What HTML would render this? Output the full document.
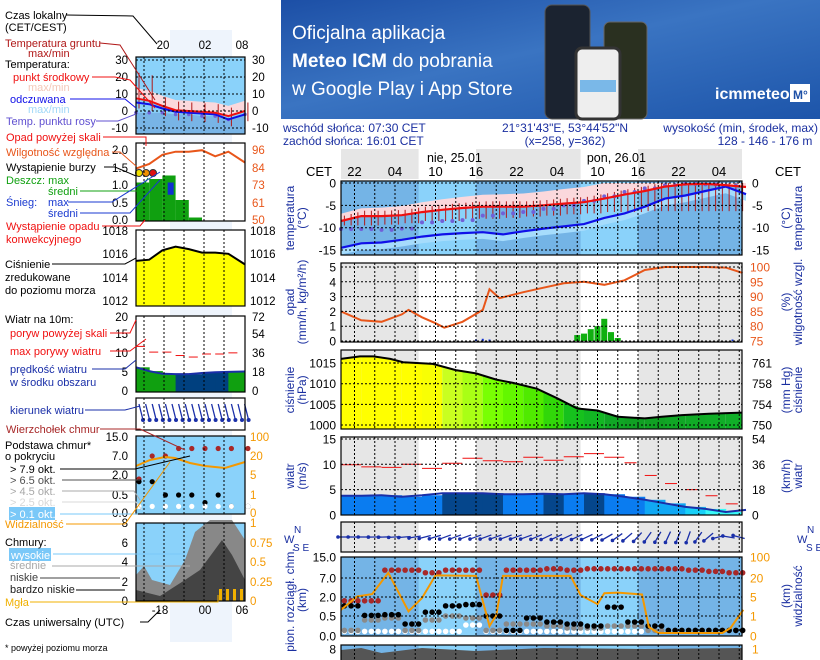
<!DOCTYPE html>
<html><head><meta charset="utf-8"><style>
html,body{margin:0;padding:0;background:#fff;}
svg{display:block;font-family:"Liberation Sans",sans-serif;}
</style></head><body>
<svg id="chart" width="820" height="660" viewBox="0 0 820 660" xmlns="http://www.w3.org/2000/svg">
<defs>
<linearGradient id="bn" x1="0" y1="0" x2="1" y2="1"><stop offset="0" stop-color="#1c4fa6"/><stop offset="0.45" stop-color="#3a74c2"/><stop offset="1" stop-color="#1d55aa"/></linearGradient>
</defs>
<g>
<rect x="281" y="0" width="539" height="119" fill="url(#bn)"/>
<text x="292" y="39" fill="#fff" font-size="19">Oficjalna aplikacja</text>
<text x="292" y="67" fill="#fff" font-size="19"><tspan font-weight="bold">Meteo ICM</tspan> do pobrania</text>
<text x="292" y="95" fill="#fff" font-size="19">w Google Play i App Store</text>
<g>
<rect x="545" y="5" width="45" height="114" rx="7" fill="#1b2330" stroke="#555"/>
<rect x="604" y="22" width="43" height="97" rx="6" fill="#2a3020" stroke="#666"/>
<rect x="576" y="48" width="44" height="71" rx="6" fill="#eee" stroke="#333" stroke-width="3"/>
<rect x="580" y="80" width="36" height="12" fill="#7ab8e8"/>
</g>
<text x="715" y="99" fill="#fff" font-size="16" font-weight="bold">icmmeteo</text>
<rect x="790" y="84" width="20" height="18" fill="#fff"/>
<text x="793" y="99" fill="#1c4fa6" font-size="12" font-weight="bold">M°</text>
</g>
<g font-size="12" fill="#1a2fa0">
<text x="283" y="132">wschód słońca: 07:30 CET</text>
<text x="283" y="145">zachód słońca: 16:01 CET</text>
<text x="565" y="132" text-anchor="middle">21°31'43"E, 53°44'52"N</text>
<text x="565" y="145" text-anchor="middle">(x=258, y=362)</text>
<text x="818" y="132" text-anchor="end">wysokość (min, środek, max)</text>
<text x="765" y="145" text-anchor="middle">128 - 146 - 176 m</text>
</g>
<g id="main"></g>
<g id="mini"></g>
<g id="legend" font-size="11"></g>
</svg>
<script>
// ===== main chart data (hours since Sat 20:00 CET) =====
const tHours=[0,3,6,9,12,15,18,21,24,27,30,33,36,39,42,45,48,51,54,57,60];
const tempMid=[-8.5,-7.4,-7.4,-7.2,-6.5,-6.0,-5.6,-5.3,-5.3,-5.3,-5.0,-4.6,-4.3,-3.5,-2.6,-1.8,-0.8,-0.3,-0.2,-0.5,-0.9];
const tempFeel=[-14.5,-13.5,-13.3,-12.7,-12.0,-11.5,-11.2,-11.0,-11.5,-10.8,-10.2,-9.7,-9.2,-7.8,-6.8,-5.3,-3.5,-2.8,-1.8,-0.8,-2.5];
const dewPoint=[-10.3,-10.3,-10.5,-10.2,-8.8,-8.5,-8.3,-7.3,-6.8,-6.5,-5.8,-5.0,-4.0,-3.0,-2.0,-1.2,-0.5,-0.2,-0.3,-0.6,-1.0];
const groundMin=[-9.5,-9.5,-9.3,-9.0,-8.5,-8.5,-8.0,-8.0,-7.8,-7.5,-7.3,-7.0,-6.8,-6.5,-6.5,-6.3,-6.3,-6.3,-6.3,-6.3,-6.3];
const humHours=[0,3,6,9,10,12,14,15.3,18,21,22,23.5,27,30,33,36,39,42,45,48,51,54,57,59.5];
const humidity=[85,82,81.5,84,85.5,83,81,79.5,81.5,85.5,92.5,89.5,91.5,93,94.5,95,94,95.5,99,100,100,100,99.8,98];
const precipHours=[20,21,22,35,36,37,38,39,40,41,58];
const precipRain=[0,0,0,0.4,0.5,0.8,1.0,1.5,0.6,0.2,0];
const precipSnow=[0.1,0.15,0.1,0,0,0,0,0,0,0,0.1];
const presHours=[0,2.8,4.8,7.3,9.2,13.6,17,20,23,25.5,29,32,35,38,41,45,47.5,50.5,54.5,59.4];
const pressure=[1016,1016.6,1016.6,1016,1015.2,1014.8,1013.3,1012.5,1011,1010.2,1008.8,1006.5,1004,1003.5,1002,1001.6,1002,1002.4,1002.7,1003];
const windSpeed=[3.8,3.8,3.9,3.6,3.9,4.3,4.3,4.3,4.1,4.1,4.2,4.1,4.3,4.1,3.6,3.0,2.3,1.6,1.2,0.6,1.0];
const windGust=[9.9,9.5,9.4,10.0,9.2,10.2,11.2,10.7,10.5,11.4,10.8,11.5,12.1,11.4,10.3,7.8,6.2,5.0,3.8,2.2,2.1];
const windDir=[180,180,182,185,195,200,200,200,200,200,205,205,205,210,220,235,245,250,220,170,160];
const cloudTop=[1.7,1.7,10,10,9,10,10,2.5,10,10,10.5,10,10.5,10.5,10.5,10.5,10.5,10,9.5,9,8.5];
const baseOkt79=[1.3,0.55,0.6,0.3,0.8,1.3,1.4,0.5,0.14,0.45,0.35,0.3,0.25,1.2,0.35,0.25,0.14,0.14,0.14,0.14,0.14];
const baseOkt65=[0.14,0.4,0.45,0.14,0.4,0.5,0.45,0.14,0.3,0.3,0.25,0.2,0.2,0.25,0.25,0.14,0.14,0.14,0.14,0.14,0.14];
const baseOkt01=[0.14,0.14,0.14,0.14,0.14,0.14,0.3,0.14,0.14,0.14,0.14,0.14,0.14,0.14,0.14,0,0,0,0,0,0];
const visHours=[0,2.4,4.6,7,10,12,14,20,22,23,24,34,35.5,38,39,41,44.6,45.6,47,56.5,57.7,59.6];
const visibility=[2.3,5.5,7.3,40,2,4.8,30,28,0.5,1.2,28,28,6.5,3.5,8,8.5,7,0.45,0.15,0.15,0.4,2.3];
const timeLabels=['22','04','10','16','22','04','10','16','22','04'];
const timeLabelHours=[2,8,14,20,26,32,38,44,50,56];
const dayLabels=['nie, 25.01','pon, 26.01'];
const dayLabelHours=[16.8,40.8];
const daylight=[[11.5,20],[35.5,44]];
const tempTicks=[0,-5,-10,-15];
const precTicks=[5,4,3,2,1,0];
const humTicks=[100,95,90,85,80,75];
const presTicks=[1015,1010,1005,1000];
const presMmTicks=['761','758','754','750'];
const windTicks=[15,10,5,0];
const windKmhTicks=['54','36','18','0'];
const cloudTicks=['15.0','7.0','2.0','0.5','0.0'];
const cloudTickVals=[15,7,2,0.5,0];
const visTicks=[100,20,5,1,0];

// ===== mini (legend) chart data =====
const mHours=[0,2,4,6,8,10,12,14,16.5];
const mTemp=[7.5,6,3,0.5,0,-0.5,-1,-3,0];
const mFeel=[5,4,1.5,-0.5,-1,-1.5,-2,-5,-2];
const mDew=[-1,-1,-1,-2,-2,-3,-3,-5,-2];
const mHum=[84,87,93,95,95,96,92,95,88];
const mRain=[1.1,1.2,1.3,0.6,0.1,0,0,0,0];
const mPres=[1015.4,1015.5,1016.3,1016.6,1016.4,1016.1,1016.1,1016,1015.1];
const mWind=[6.5,5.5,4.8,4.7,4.7,5.0,5.2,5.3,5.4];
const mGust=[12,10.5,10.5,9.6,9.2,10.0,10.0,10.3,10.5];
const mCloudTop=[1.7,7,7,10,10,10,10,10,10];
const mBase=[1.5,1.5,0.5,0.5,0.5,0.3,0.5,0.2,0.2];

const NS='http://www.w3.org/2000/svg';
const main=document.getElementById('main');
const mini=document.getElementById('mini');
const legend=document.getElementById('legend');
function mk(tag,attrs,parent,text){const e=document.createElementNS(NS,tag);for(const k in attrs)e.setAttribute(k,attrs[k]);if(text!==undefined)e.textContent=text;parent.appendChild(e);return e;}
function interp(xs,ys,v){if(v<=xs[0])return ys[0];for(let i=1;i<xs.length;i++){if(v<=xs[i]){const t=(v-xs[i-1])/(xs[i]-xs[i-1]);return ys[i-1]+t*(ys[i]-ys[i-1]);}}return ys[ys.length-1];}
function pts(xs,ys,fx,fy){return xs.map((h,i)=>fx(h).toFixed(1)+','+fy(ys[i]).toFixed(1)).join(' ');}

const X0=341,X1=742,PX=6.75;
const X=h=>X0+h*PX;
const tY=v=>183-v*4.47;
const pY=v=>341-v*14.8;
const hY=v=>341-(v-75)*2.96;
const prY=v=>425-(v-1000)*4.13;
const wY=v=>515-v*5.07;
const cY=v=>interp([0,0.5,2,7,15],[636,616,597,578,557],v);
const vY=v=>interp([0,1,5,20,100],[636,616,597,578,557],v);
const panels=[[181,255],[263,342],[350,429],[437,515],[522,552],[557,636],[645,662]];

let el=mk('rect',{x:X0,y:149,width:X1-X0,height:30,fill:'#e6e6e6'},main);


daylight.forEach(d=>{
  const r=mk('rect',{x:X(d[0]),y:149,width:X(d[1])-X(d[0]),height:30,fill:'#fff'},main);
  
  
});
timeLabels.forEach((t,i)=>{
  const e=mk('text',{x:X(timeLabelHours[i]),y:176,'text-anchor':'middle','font-size':13,fill:'#000'},main,t);
  
  
});
dayLabels.forEach((t,i)=>{
  const e=mk('text',{x:X(dayLabelHours[i]),y:162,'text-anchor':'middle','font-size':12.5,fill:'#000'},main,t);
  
  
});
el=mk('text',{x:306,y:176,'font-size':13},main,'CET');


el=mk('text',{x:775,y:176,'font-size':13},main,'CET');



for(let p=1;p<=4;p++){
  const [a,b]=panels[p];
  const r=mk('rect',{x:X0,y:a,width:X1-X0,height:b-a,fill:'#e6e6e6'},main);
  
  
  daylight.forEach(d=>{
    const w=mk('rect',{x:X(d[0]),y:a,width:X(d[1])-X(d[0]),height:b-a,fill:'#fff'},main);
    
    
  });
}
[0,5,6].forEach(p=>{
  const [a,b]=panels[p];
  const r=mk('rect',{x:X0,y:a,width:X1-X0,height:b-a,fill:'#74b4e6'},main);
  
  
  daylight.forEach(d=>{
    const w=mk('rect',{x:X(d[0]),y:a,width:X(d[1])-X(d[0]),height:b-a,fill:'#8ad2fa'},main);
    
    
  });
});

// temperature
const upper=tHours.map((h,i)=>X(h).toFixed(1)+','+tY(Math.min(0,tempMid[i]+1.6+i*0.15)).toFixed(1)).join(' ');
const lowerRev=tHours.map((h,i)=>X(h).toFixed(1)+','+tY(tempMid[i]).toFixed(1)).reverse().join(' ');
el=mk('polygon',{points:upper+' '+lowerRev,fill:'#fbd8dc'},main);


const feelUp=tHours.map((h,i)=>X(h).toFixed(1)+','+tY(tempFeel[i]).toFixed(1)).join(' ');
const feelLo=tHours.map((h,i)=>X(h).toFixed(1)+','+tY(tempFeel[i]-1.5).toFixed(1)).reverse().join(' ');
el=mk('polygon',{points:feelUp+' '+feelLo,fill:'#a6dcfc'},main);


for(let h=0;h<60;h++){
  const i=Math.floor(h/3);
  const top=interp(tHours,tempMid,h)+1.2;
  const b=mk('line',{x1:X(h+0.5),x2:X(h+0.5),y1:tY(Math.min(0,top)),y2:tY(groundMin[i]),stroke:'#b01818','stroke-width':1},main);
  
  
}
tHours.forEach((h,i)=>{
  [0,1.5].forEach(o=>{
    if(h+o>59.5)return;
    const d=mk('circle',{cx:X(h+o),cy:tY(dewPoint[i]),r:2,fill:'#7060d8'},main);
    
    
  });
});
el=mk('polyline',{points:pts(tHours,tempFeel,X,tY),fill:'none',stroke:'#1010e8','stroke-width':2.2},main);


el=mk('polyline',{points:pts(tHours,tempMid,X,tY),fill:'none',stroke:'#f01010','stroke-width':2.2},main);



// precipitation / humidity
precipHours.forEach((h,i)=>{
  if(precipRain[i]>0){const r=mk('rect',{x:X(h)-3,y:pY(precipRain[i]),width:6,height:pY(0)-pY(precipRain[i]),fill:'#10b010'},main);
  
  }
  if(precipSnow[i]>0){const s=mk('rect',{x:X(h)-1,y:pY(precipSnow[i]),width:2,height:pY(0)-pY(precipSnow[i]),fill:'#1030d0'},main);
  
  }
});
el=mk('polyline',{points:pts(humHours,humidity,X,hY),fill:'none',stroke:'#e8561a','stroke-width':2},main);



// pressure
function presColor(p){
  const stops=[[1001,[16,150,32]],[1003,[16,176,40]],[1005,[24,200,24]],[1008,[64,224,0]],[1011,[112,255,0]],[1013.5,[200,255,32]],[1015,[255,255,0]]];
  if(p<=stops[0][0])return 'rgb('+stops[0][1]+')';
  for(let i=1;i<stops.length;i++){if(p<=stops[i][0]){const t=(p-stops[i-1][0])/(stops[i][0]-stops[i-1][0]);const c=stops[i-1][1].map((v,k)=>Math.round(v+t*(stops[i][1][k]-v)));return 'rgb('+c+')';}}
  return 'rgb(255,255,0)';
}
for(let h=0;h<59.4;h+=3){
  const pm=interp(presHours,pressure,h+1.5);
  const h2=Math.min(h+3,59.4);
  const poly=[X(h),prY(interp(presHours,pressure,h)),X(h2),prY(interp(presHours,pressure,h2)),X(h2),429,X(h),429];
  const s=mk('polygon',{points:poly.join(' '),fill:presColor(pm)},main);
  
  
}
el=mk('polyline',{points:pts(presHours,pressure,X,prY),fill:'none',stroke:'#000','stroke-width':2},main);



// wind
function windColor(v){return v>=4.2?'#05468c':v>=3.4?'#0a7cf0':v>=2.2?'#10a8f4':v>=1.4?'#18d0f8':'#38f8f8';}
tHours.forEach((h,i)=>{
  if(h>=59.4)return;
  const w=Math.min(3,59.4-h);
  const r=mk('rect',{x:X(h),y:wY(windSpeed[i]),width:w*PX+0.5,height:wY(0)-wY(windSpeed[i]),fill:windColor(windSpeed[i])},main);
  
  
});
el=mk('polyline',{points:pts(tHours,windSpeed,X,wY),fill:'none',stroke:'#1a2fa8','stroke-width':2},main);


tHours.forEach((h,i)=>{
  if(h>=59.4)return;
  const g=mk('line',{x1:X(h),x2:X(h)+(h<42?20:12),y1:wY(windGust[i]),y2:wY(windGust[i]),stroke:'#f01010','stroke-width':1},main);
  
  
});
for(let h=0;h<60;h+=1.5){
  const a=interp(tHours,windDir,h)*Math.PI/180;
  const cx=X(h)+3,cy=537,L=6;
  const dx=Math.cos(a)*L,dy=-Math.sin(a)*L;
  const ar=mk('line',{x1:cx-dx,y1:cy-dy,x2:cx+dx,y2:cy+dy,stroke:'#1a2fa8','stroke-width':1.3},main);
  
  
  const hd=mk('circle',{cx:cx+dx,cy:cy+dy,r:1.8,fill:'#1a2fa8'},main);
  
  
}

// clouds
for(let h=0;h<60;h++){
  const i=Math.floor(h/3),cx=X(h+0.5);
  const t=mk('circle',{cx:cx,cy:cY(cloudTop[i]),r:2.8,fill:'#a82828'},main);
  
  
  if(baseOkt01[i]>0){const w=mk('circle',{cx:cx,cy:cY(baseOkt01[i])+1,r:2.8,fill:'#fff'},main);
  
  }
  const g=mk('circle',{cx:cx,cy:cY(baseOkt65[i]),r:2.8,fill:'#8a8a8a'},main);
  
  
  const b=mk('circle',{cx:cx,cy:cY(baseOkt79[i]),r:2.8,fill:'#000'},main);
  
  
}
el=mk('polyline',{points:pts(visHours,visibility,X,vY),fill:'none',stroke:'#f49800','stroke-width':2},main);


el=mk('polygon',{points:[X0,660,X0,650,X(3),648,X(6),653,X(12),648,X(20),651,X(30),648,X(45),649,X(59.4),648,X(59.4),660].join(' '),fill:'#555'},main);



panels.forEach((pn,p)=>{
  const [a,b]=pn;
  for(let h=2;h<60;h+=3){
    const g=mk('line',{x1:X(h),x2:X(h),y1:a,y2:b,stroke:'#000','stroke-dasharray':'2,2','stroke-width':1},main);
    
    
  }
  const r=mk('rect',{x:X0,y:a,width:X1-X0,height:b-a,fill:'none',stroke:'#000','stroke-width':1.2},main);
  
  
});
function hgrid(ys){ys.forEach(y=>{const g=mk('line',{x1:X0,x2:X1,y1:y,y2:y,stroke:'#000','stroke-dasharray':'2,2'},main);});}
function ticks(labels,ys,x,anchor,color){labels.forEach((l,i)=>{const t=mk('text',{x:x,y:ys[i]+4.5,'text-anchor':anchor,'font-size':12,fill:color},main,l);});}
hgrid(tempTicks.map(tY));ticks(tempTicks.map(String),tempTicks.map(tY),336,'end','#000');ticks(tempTicks.map(String),tempTicks.map(tY),752,'start','#000');
hgrid(precTicks.map(pY));ticks(precTicks.map(String),precTicks.map(pY),336,'end','#000');ticks(humTicks.map(String),humTicks.map(hY),750,'start','#e8561a');
hgrid(presTicks.map(prY));ticks(presTicks.map(String),presTicks.map(prY),336,'end','#000');ticks(presMmTicks,presTicks.map(prY),752,'start','#000');
hgrid(windTicks.map(wY));ticks(windTicks.map(String),windTicks.map(wY),336,'end','#000');ticks(windKmhTicks,windTicks.map(wY),752,'start','#000');
hgrid(cloudTickVals.map(cY));ticks(cloudTicks,cloudTickVals.map(cY),336,'end','#000');ticks(visTicks.map(String),visTicks.map(vY),750,'start','#f49800');
ticks(['8'],[649],336,'end','#000');ticks(['1'],[649],752,'start','#f49800');

function vtitle(lines,cx,cy,name){lines.forEach((l,i)=>{const t=mk('text',{x:0,y:0,transform:'translate('+(cx+i*12)+','+cy+') rotate(-90)','text-anchor':'middle','font-size':12,fill:'#1a2fa0'},main,l);});}
vtitle(['temperatura','(°C)'],294,218,'temp-axis-title');
vtitle(['(°C)','temperatura'],790,218,'temp-axis-title-right');
vtitle(['opad','(mm/h, kg/m²/h)'],294,302,'precip-axis-title');
vtitle(['(%)','wilgotność wzgl.'],790,302,'humidity-axis-title');
vtitle(['ciśnienie','(hPa)'],294,390,'pressure-axis-title');
vtitle(['(mm Hg)','ciśnienie'],790,390,'pressure-mmhg-axis-title');
vtitle(['wiatr','(m/s)'],294,476,'wind-axis-title');
vtitle(['(km/h)','wiatr'],790,476,'wind-kmh-axis-title');
vtitle(['pion. rozciągł. chm.','(km)'],294,600,'cloud-axis-title');
vtitle(['(km)','widzialność'],790,596,'visibility-axis-title');
[[284,'W'],[797,'W']].forEach(c=>{
  const t=mk('text',{x:c[0],y:543,'font-size':11,fill:'#1a2fa0'},main,c[1]+'');
  
  
  const t2=mk('text',{x:c[0]+10,y:533,'font-size':10,fill:'#1a2fa0'},main,'N');
  
  
  const t3=mk('text',{x:c[0]+9,y:551,'font-size':10,fill:'#1a2fa0'},main,'S E');
  
  
});

// mini chart
const MX0=136,MX1=245;
const MX=h=>MX0+h*6.6;
const mpanels=[[57,134],[143,221],[230,306],[316,392],[398,430],[436,514],[523,601]];
const mtY=v=>111-v*1.7;
const mpY=v=>221-v*35;
const mhY=v=>221-(v-50)*1.54;
const mprY=v=>301-(v-1012)*11.8;
const mwY=v=>392-v*3.8;
const mcY=v=>interp([0,0.5,2,7,15],[514,495,475,456,436],v);
el=mk('rect',{x:170,y:30,width:62,height:612,fill:'#eef4fc'},mini);


[[0,'#8ad2fa'],[5,'#8ad2fa'],[6,'#8ad2fa'],[2,'#fff'],[1,'#fff'],[3,'#fff'],[4,'#fff']].forEach(([p,c])=>{
  const [a,b]=mpanels[p];
  const r=mk('rect',{x:MX0,y:a,width:MX1-MX0,height:b-a,fill:c},mini);
  
  
});
el=mk('polygon',{points:pts(mHours,mTemp.map(v=>v+6),MX,mtY)+' '+mHours.map((h,i)=>MX(h)+','+mtY(mTemp[i])).reverse().join(' '),fill:'#fbd8dc'},mini);


el=mk('polygon',{points:MX0+',134 '+pts(mHours,mDew,MX,mtY)+' '+MX1+',134',fill:'#78b4e6'},mini);


mHours.forEach((h,i)=>{const d=mk('circle',{cx:MX(h),cy:mtY(mDew[i]),r:1.8,fill:'#7060d8'},mini);
 const b=mk('line',{x1:MX(h)+3,x2:MX(h)+3,y1:mtY(mTemp[i]+(i<2?15:5)),y2:mtY(mTemp[i]-6),stroke:'#b01818'},mini);});
el=mk('polyline',{points:pts(mHours,mFeel,MX,mtY),fill:'none',stroke:'#1010e8','stroke-width':2},mini);


el=mk('polyline',{points:pts(mHours,mTemp,MX,mtY),fill:'none',stroke:'#f01010','stroke-width':2},mini);


mHours.forEach((h,i)=>{if(mRain[i]>0){const r=mk('rect',{x:MX(h),y:mpY(mRain[i]),width:13.2,height:mpY(0)-mpY(mRain[i]),fill:'#10a010'},mini);}});
el=mk('rect',{x:MX(4.8),y:mpY(1.1),width:6,height:mpY(0.75)-mpY(1.1),fill:'#1030d0'},mini);


el=mk('polyline',{points:pts(mHours,mHum,MX,mhY),fill:'none',stroke:'#e8561a','stroke-width':2},mini);


[[139,'#f0e000'],[146,'#f09000'],[153,'#e01010']].forEach(([x,c])=>{const s=mk('circle',{cx:x,cy:173,r:3.5,fill:c,stroke:'#333'},mini);});
el=mk('polygon',{points:MX0+',306 '+pts(mHours,mPres,MX,mprY)+' '+MX1+',306',fill:'#ffff00'},mini);


el=mk('polyline',{points:pts(mHours,mPres,MX,mprY),fill:'none',stroke:'#000','stroke-width':2},mini);


mHours.forEach((h,i)=>{if(i===mHours.length-1)return;const c=(i>=3&&i<=6)?'#00407f':'#10a010';const r=mk('rect',{x:MX(h),y:mwY(mWind[i]),width:MX(mHours[i+1])-MX(h)+0.5,height:mwY(0)-mwY(mWind[i]),fill:c},mini);
 const g=mk('line',{x1:MX(h),x2:MX(h)+9,y1:mwY(mGust[i]),y2:mwY(mGust[i]),stroke:'#f01010'},mini);});
el=mk('polyline',{points:pts(mHours,mWind,MX,mwY),fill:'none',stroke:'#1a2fa8','stroke-width':2},mini);


for(let h=0;h<17;h+=1){const a=mk('line',{x1:MX(h)+3,y1:404,x2:MX(h)+7,y2:420,stroke:'#1a2fa8','stroke-width':1.3},mini);
 const hd=mk('circle',{cx:MX(h)+7,cy:420,r:2,fill:'#1a2fa8'},mini);}
mHours.forEach((h,i)=>{const t=mk('circle',{cx:MX(h)+3,cy:mcY(mCloudTop[i]),r:2.6,fill:'#a82828'},mini);
 const b=mk('circle',{cx:MX(h)+3,cy:mcY(mBase[i]),r:2.6,fill:'#000'},mini);
 const w=mk('circle',{cx:MX(h)+3,cy:mcY(0.2),r:2.6,fill:'#fff'},mini);});
el=mk('polyline',{points:[136,466,150,460,165,457,175,458,190,463,205,466,225,468,245,462].join(' '),fill:'none',stroke:'#f49800','stroke-width':2},mini);


el=mk('polygon',{points:'136,601 136,575 144,566 152,580 170,585 185,560 195,532 210,520 232,520 245,540 245,601',fill:'#888'},mini);


el=mk('polygon',{points:'136,601 136,590 160,596 185,580 200,570 222,540 232,555 245,580 245,601',fill:'#444'},mini);


[219,226,233,240].forEach(x=>{const f=mk('rect',{x:x,y:589,width:3,height:12,fill:'#f0b000'},mini);});
mpanels.forEach(([a,b])=>{
  [144,164,184,204,224].forEach(x=>{const g=mk('line',{x1:x,x2:x,y1:a,y2:b,stroke:'#000','stroke-dasharray':'2,2'},mini);});
  const r=mk('rect',{x:MX0,y:a,width:MX1-MX0,height:b-a,fill:'none',stroke:'#000','stroke-width':1.2},mini);
  
  
});
function mt(l,x,y,anchor,color){const t=mk('text',{x:x,y:y,'text-anchor':anchor,'font-size':11.5,fill:color||'#000'},mini,l);}
[['30',60],['20',77],['10',94],['0',111],['-10',128]].forEach(([l,y])=>{mt(l,128,y+4,'end');mt(l,252,y+4,'start');const g=mk('line',{x1:MX0,x2:MX1,y1:y,y2:y,stroke:'#000','stroke-dasharray':'2,2'},mini);});
[['2.0',150,'96'],['1.5',168,'84'],['1.0',185,'73'],['0.5',203,'61'],['0.0',220,'50']].forEach(([l,y,r])=>{mt(l,128,y+4,'end');mt(r,252,y+4,'start','#e8561a');});
[['1018',231],['1016',254],['1014',278],['1012',301]].forEach(([l,y])=>{mt(l,128,y+4,'end');mt(l,250,y+4,'start');});
[['20',317,'72'],['15',334,'54'],['10',353,'36'],['5',372,'18'],['0',391,'0']].forEach(([l,y,r])=>{mt(l,128,y+4,'end');mt(r,252,y+4,'start');});
[['15.0',437,'100'],['7.0',456,'20'],['2.0',475,'5'],['0.5',495,'1'],['0.0',513,'0']].forEach(([l,y,r])=>{mt(l,128,y+4,'end');mt(r,250,y+4,'start','#f49800');});
[['8',523,'1'],['6',543,'0.75'],['4',562,'0.5'],['2',582,'0.25'],['0',601,'0']].forEach(([l,y,r])=>{mt(l,128,y+4,'end');mt(r,250,y+4,'start','#f49800');});
mt('20',163,49,'middle');mt('02',205,49,'middle');mt('08',242,49,'middle');
mt('-18',160,614,'middle');mt('00',205,614,'middle');mt('06',242,614,'middle');

// legend
const legItems=[
['Czas lokalny',5,19,'#000'],['(CET/CEST)',5,31,'#000'],
['Temperatura gruntu',5,47,'#b01818'],['max/min',28,57,'#b01818'],
['Temperatura:',5,68,'#000'],['punkt środkowy',13,81,'#f01010'],['max/min',28,91,'#f4c8b8'],
['odczuwana',10,103,'#1010e8'],['max/min',28,113,'#a0d8f8'],['Temp. punktu rosy',6,125,'#6050d0'],
['Opad powyżej skali',6,141,'#f01010'],['Wilgotność względna',6,156,'#e8561a'],['Wystąpienie burzy',6,171,'#000'],
['Deszcz: max',6,184,'#10a010'],['średni',48,195,'#10a010'],['Śnieg:',6,206,'#1a3ad0'],['max',48,206,'#1a3ad0'],['średni',48,217,'#1a3ad0'],
['Wystąpienie opadu',6,230,'#f01010'],['konwekcyjnego',6,243,'#f01010'],
['Ciśnienie',5,268,'#000'],['zredukowane',5,281,'#000'],['do poziomu morza',5,294,'#000'],
['Wiatr na 10m:',5,323,'#000'],['poryw powyżej skali',10,337,'#f01010'],['max porywy wiatru',10,355,'#f01010'],
['prędkość wiatru',10,373,'#1a2fa8'],['w środku obszaru',10,386,'#1a2fa8'],['kierunek wiatru',10,414,'#1a2fa8'],
['Wierzchołek chmur',6,433,'#a82828'],['Podstawa chmur*',5,449,'#000'],['o pokryciu',5,460,'#000'],
['> 7.9 okt.',10,473,'#000'],['> 6.5 okt.',10,484,'#505050'],['> 4.5 okt.',10,495,'#a8a8a8'],['> 2.5 okt.',10,506,'#d8d8d8'],
['Widzialność',5,528,'#f49800'],['Chmury:',5,546,'#000'],['średnie',10,569,'#a8a8a8'],['niskie',10,581,'#404040'],['bardzo niskie',10,593,'#202020'],['Mgła',5,606,'#f0b000'],
['Czas uniwersalny (UTC)',5,626,'#000']];
let r=mk('rect',{x:9,y:507,width:46,height:13,fill:'#7ac8f8'},legend);


r=mk('rect',{x:9,y:548,width:42,height:13,fill:'#7ac8f8'},legend);


legItems.push(['> 0.1 okt.',10,518,'#fff'],['wysokie',11,559,'#fff']);
legItems.forEach(([t,x,y,c])=>{const e=mk('text',{x:x,y:y,fill:c,'font-size':11},legend,t);});
el=mk('text',{x:5,y:651,'font-size':9,fill:'#000'},legend,'* powyżej poziomu morza');


const leaders=[
['66,15 133,16 157,44','#000'],['100,43 120,45 155,100','#b01818'],['92,77 115,77 130,80 155,108','#f01010'],
['70,99 125,99 136,108','#1010e8'],['96,121 118,121 136,114','#6050d0'],['103,137 146,137 146,146','#f01010'],
['112,152 120,152 136,166','#e8561a'],['104,167 115,167 136,176','#000'],['80,191 140,191 148,178','#10a010'],
['68,202 112,202 160,172','#1a3ad0'],['80,213 130,213 160,180','#1a3ad0'],['102,226 140,226 145,220','#f01010'],
['52,264 125,264 136,258','#000'],['110,333 130,333 136,320','#f01010'],['110,351 130,351 146,339','#f01010'],
['92,369 125,369 136,360','#1a2fa8'],['85,410 125,410 140,406','#1a2fa8'],['100,429 140,429 185,450','#a82828'],
['60,469 135,469 190,456','#000'],['62,480 140,480','#505050'],['62,491 134,491 140,500','#a8a8a8'],['62,502 136,502 142,510','#d8d8d8'],
['60,514 138,514','#7ac8f8'],['66,524 125,524 170,462','#f49800'],['53,554 185,554','#7ac8f8'],['52,566 190,566','#a8a8a8'],
['40,578 120,578','#404040'],['76,590 125,590','#000'],['30,602 218,602 218,595','#f0b000'],['140,622 148,622 160,610','#000']];
leaders.forEach(([p,c])=>{const l=mk('polyline',{points:p,fill:'none',stroke:c,'stroke-width':1},legend);});
</script>
</body></html>
